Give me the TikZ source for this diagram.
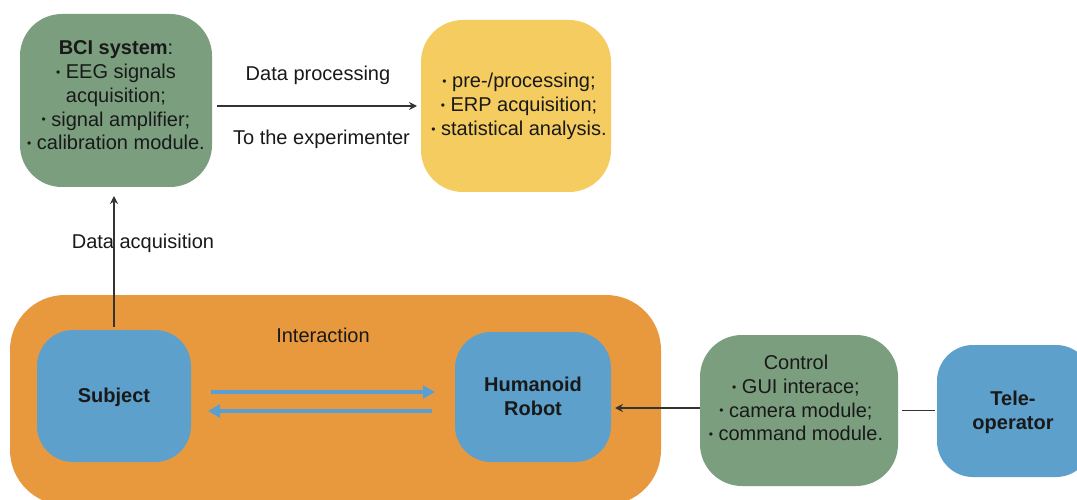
\documentclass[tikz,border=0pt]{standalone}
\usepackage{fontspec}
\setmainfont{Liberation Sans}
\usetikzlibrary{arrows.meta,calc}
\definecolor{cgreen}{HTML}{7A9E7E}
\definecolor{cyellow}{HTML}{F5CC5F}
\definecolor{corange}{HTML}{E8993E}
\definecolor{cblue}{HTML}{5CA0CB}
\definecolor{carrow}{HTML}{5A9FD2}
\newcommand\bt{\raisebox{0.2ex}{\scalebox{0.6}{•}}\ }
\begin{document}
\begin{tikzpicture}[x=1pt,y=-1pt,
  box/.style={inner sep=0pt,outer sep=0pt,draw=none},
  txt/.style={font=\fontsize{20}{23.7}\selectfont,align=center,inner sep=0pt,text=black!90},
  btxt/.style={txt,font=\fontsize{20}{23.7}\selectfont\bfseries},
  blk/.style={-{Stealth[length=8pt,width=8pt]},line width=1.5pt,draw=black!80},
  barrow/.style={-{Triangle[length=12pt,width=13pt]},line width=3.6pt,draw=carrow}]
\useasboundingbox (0,0) rectangle (1077,500);
\clip (0,0) rectangle (1077,500);
\fill[white] (0,0) rectangle (1077,500);
% boxes
\node[box,fill=corange,minimum width=651pt,minimum height=210pt,rounded corners=55pt] (inter) at (335.5,400) {};
\node[box,fill=cgreen,minimum width=192pt,minimum height=173pt,rounded corners=42pt] (bci) at (116,100.5) {};
\node[box,fill=cyellow,minimum width=190pt,minimum height=172pt,rounded corners=42pt] (yel) at (516,106) {};
\node[box,fill=cblue,minimum width=154pt,minimum height=132pt,rounded corners=36pt] (subj) at (114,396) {};
\node[box,fill=cblue,minimum width=156pt,minimum height=130pt,rounded corners=36pt] (robot) at (533,397) {};
\node[box,fill=cgreen,minimum width=198pt,minimum height=151pt,rounded corners=42pt] (ctrl) at (799,410.5) {};
\node[box,fill=cblue,minimum width=155pt,minimum height=132pt,rounded corners=36pt] (tele) at (1014.5,411) {};
% texts
\node[txt] (bcit) at (116,95.5) {\textbf{BCI system}:\\ \bt EEG signals\\ acquisition;\\ \bt signal amplifier;\\ \bt calibration module.};
\node[txt] (yelt) at (519,106.5) {\bt pre-/processing;\\ \bt ERP acquisition;\\ \bt statistical analysis.};
\node[txt] (dproc) at (318,75) {Data processing};
\node[txt] (toexp) at (321.5,139) {To the experimenter};
\node[txt] (dacq) at (143,243) {Data acquisition};
\node[txt] (intt) at (323,335) {Interaction};
\node[btxt] (subjt) at (114,397) {Subject};
\node[btxt] (robott) at (533,396.5) {Humanoid\\ Robot};
\node[txt] (ctrlt) at (796,398) {Control\\ \bt GUI interace;\\ \bt camera module;\\ \bt command module.};
\node[btxt] (telet) at (1013,412.5) {Tele-\\ operator};
% connectors
\draw[blk,shorten <=5pt,shorten >=4pt] (bci.east |- yel.west) -- (yel.west);
\draw[blk,shorten <=3pt,shorten >=9pt] (subj.north) -- (subj.north |- bci.south);
\draw[barrow,shorten <=20pt,shorten >=20pt] ([yshift=4pt]subj.east) -- ([yshift=4pt]subj.east -| robot.west);
\draw[barrow,shorten <=23pt,shorten >=17pt] ([yshift=-14pt]robot.west) -- ([yshift=-14pt]robot.west -| subj.east);
\draw[blk,shorten >=4pt] ([yshift=2.5pt]ctrl.west) -- ([yshift=2.5pt]ctrl.west -| robot.east);
\draw[line width=1.5pt,draw=black!80,shorten <=4pt,shorten >=2pt] (ctrl.east) -- (ctrl.east -| tele.west);
\end{tikzpicture}
\end{document}
